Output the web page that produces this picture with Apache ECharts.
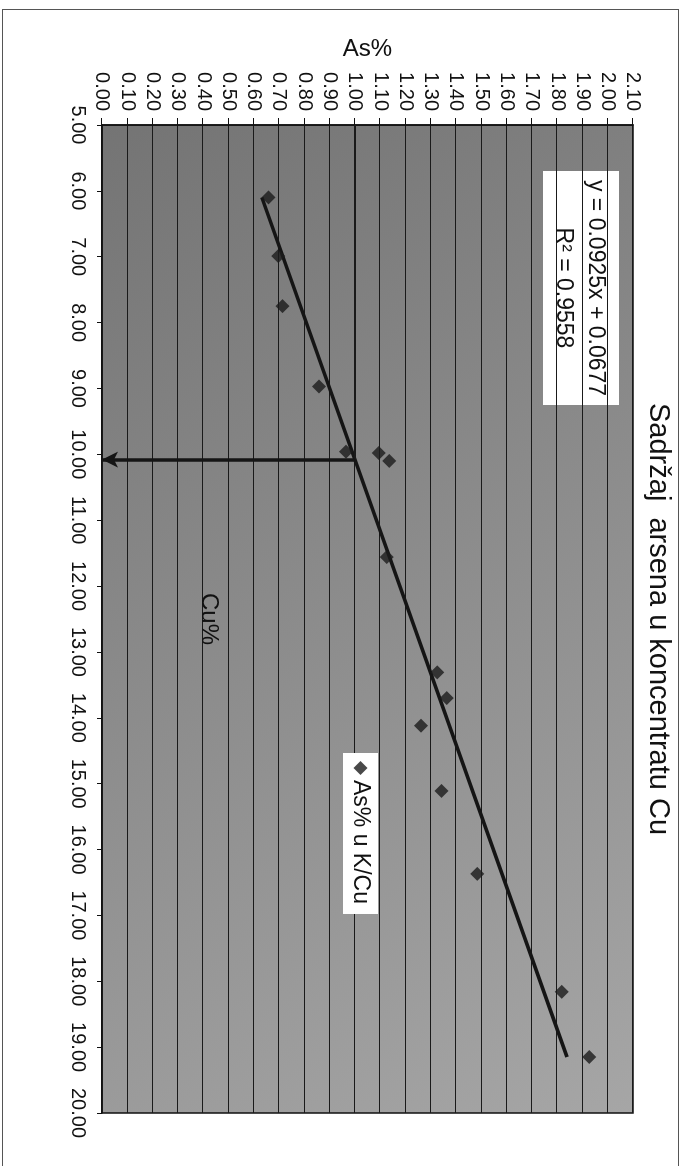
<!DOCTYPE html>
<html><head><meta charset="utf-8">
<script src="https://cdn.jsdelivr.net/npm/echarts@6/dist/echarts.min.js"></script>
<style>
html,body{margin:0;padding:0;background:#fff;overflow:hidden;width:682px;height:1166px;}
#frame{position:absolute;left:2px;top:9px;width:675px;height:1200px;border:1.5px solid #555;}
#chart{position:absolute;left:0;top:0;width:1166px;height:682px;transform-origin:0 0;transform:translate(682px,0) rotate(90deg);}
</style></head><body>
<div id="frame"></div>
<div id="chart"></div>
<script>
// Data (chart is drawn in its original orientation, then the page shows it rotated 90° clockwise)
const cuValues = [6.10, 6.99, 7.75, 8.97, 9.96, 9.98, 10.10, 11.56, 13.31, 13.70, 14.12, 15.11, 16.37, 18.16, 19.15];
const asValues = [0.658, 0.697, 0.714, 0.858, 0.965, 1.094, 1.136, 1.126, 1.326, 1.363, 1.262, 1.343, 1.484, 1.818, 1.927];
const trendSlope = 0.0925;
const trendIntercept = 0.0677;
const trendLabel = ['y = 0.0925x + 0.0677', 'R² = 0.9558'];
const readCu = 10.08;
const readAs = 1.00;
const seriesName = 'As% u K/Cu';
const titleText = 'Sadržaj  arsena u koncentratu Cu';

const FONT = 'Liberation Sans, Arial, sans-serif';
const points = cuValues.map((c, i) => [c, asValues[i]]);
const cuMin = Math.min(...cuValues), cuMax = Math.max(...cuValues);
const trend = [[cuMin, trendSlope * cuMin + trendIntercept], [cuMax, trendSlope * cuMax + trendIntercept]];

const chart = echarts.init(document.getElementById('chart'), null, {renderer: 'canvas'});
chart.setOption({
  animation: false,
  backgroundColor: 'transparent',
  textStyle: {fontFamily: FONT},
  title: {
    text: titleText, left: 403, top: 9, padding: 0,
    textStyle: {fontSize: 29, fontWeight: 'normal', color: '#111', fontFamily: FONT}
  },
  legend: {
    left: 753, top: 304, backgroundColor: '#fff', padding: [6, 10, 6, 8],
    itemWidth: 14, itemHeight: 14, itemGap: 0,
    textStyle: {fontSize: 23, color: '#111', fontFamily: FONT},
    data: [{name: seriesName, icon: 'diamond'}]
  },
  grid: {
    left: 125, right: 53, top: 49, bottom: 102, show: true,
    borderColor: '#111', borderWidth: 1.5,
    backgroundColor: new echarts.graphic.LinearGradient(0, 1, 1, 0, [
      {offset: 0, color: '#747474'}, {offset: 1, color: '#a6a6a6'}
    ])
  },
  xAxis: {
    type: 'value', min: 5, max: 20, interval: 1, position: 'bottom',
    name: 'Cu%', nameLocation: 'middle', nameGap: -119,
    nameTextStyle: {fontSize: 24, color: '#111', fontFamily: FONT},
    axisLine: {show: true, lineStyle: {color: '#111', width: 1.5}},
    axisTick: {show: true, length: 5, lineStyle: {color: '#111'}},
    axisLabel: {fontSize: 20, color: '#111', margin: 14, fontFamily: FONT, formatter: v => v.toFixed(2)},
    splitLine: {show: false}
  },
  yAxis: {
    type: 'value', min: 0, max: 2.1, interval: 0.1,
    name: 'As%', nameLocation: 'middle', nameGap: 64, nameRotate: 90,
    nameTextStyle: {fontSize: 24, color: '#111', fontFamily: FONT},
    axisLine: {show: true, lineStyle: {color: '#111', width: 1.5}},
    axisTick: {show: true, length: 7, lineStyle: {color: '#111'}},
    axisLabel: {fontSize: 20, color: '#111', margin: 14, fontFamily: FONT, formatter: v => v.toFixed(2)},
    splitLine: {show: true, lineStyle: {color: '#1a1a1a', width: 1}}
  },
  graphic: [{
    type: 'group', left: 171, top: 63,
    children: [
      {type: 'rect', shape: {x: 0, y: 0, width: 234, height: 76}, style: {fill: '#fff'}},
      {type: 'text', x: 117, y: 24, style: {text: trendLabel[0], font: '23px ' + FONT, fill: '#111', textAlign: 'center', textVerticalAlign: 'middle'}},
      {type: 'text', x: 117, y: 56, style: {text: trendLabel[1], font: '23px ' + FONT, fill: '#111', textAlign: 'center', textVerticalAlign: 'middle'}}
    ]
  }],
  series: [
    {
      name: seriesName, type: 'scatter', data: points, symbol: 'diamond', symbolSize: 14,
      itemStyle: {color: '#1c1c1c'}, z: 5
    },
    {
      name: 'trend', type: 'line', data: trend, showSymbol: false, symbol: 'none',
      lineStyle: {color: '#151515', width: 3.5}, z: 4, silent: true,
      markLine: {
        silent: true, animation: false, symbolSize: 14,
        label: {show: false},
        data: [
          [{coord: [5, readAs], symbol: 'none', lineStyle: {color: '#1a1a1a', width: 2, type: 'solid'}},
           {coord: [readCu, readAs], symbol: 'none'}],
          [{coord: [readCu, readAs], symbol: 'none', lineStyle: {color: '#151515', width: 3.5, type: 'solid'}},
           {coord: [readCu, 0], symbol: 'arrow', symbolSize: [12, 16]}]
        ]
      }
    }
  ]
});
</script>
</body></html>
